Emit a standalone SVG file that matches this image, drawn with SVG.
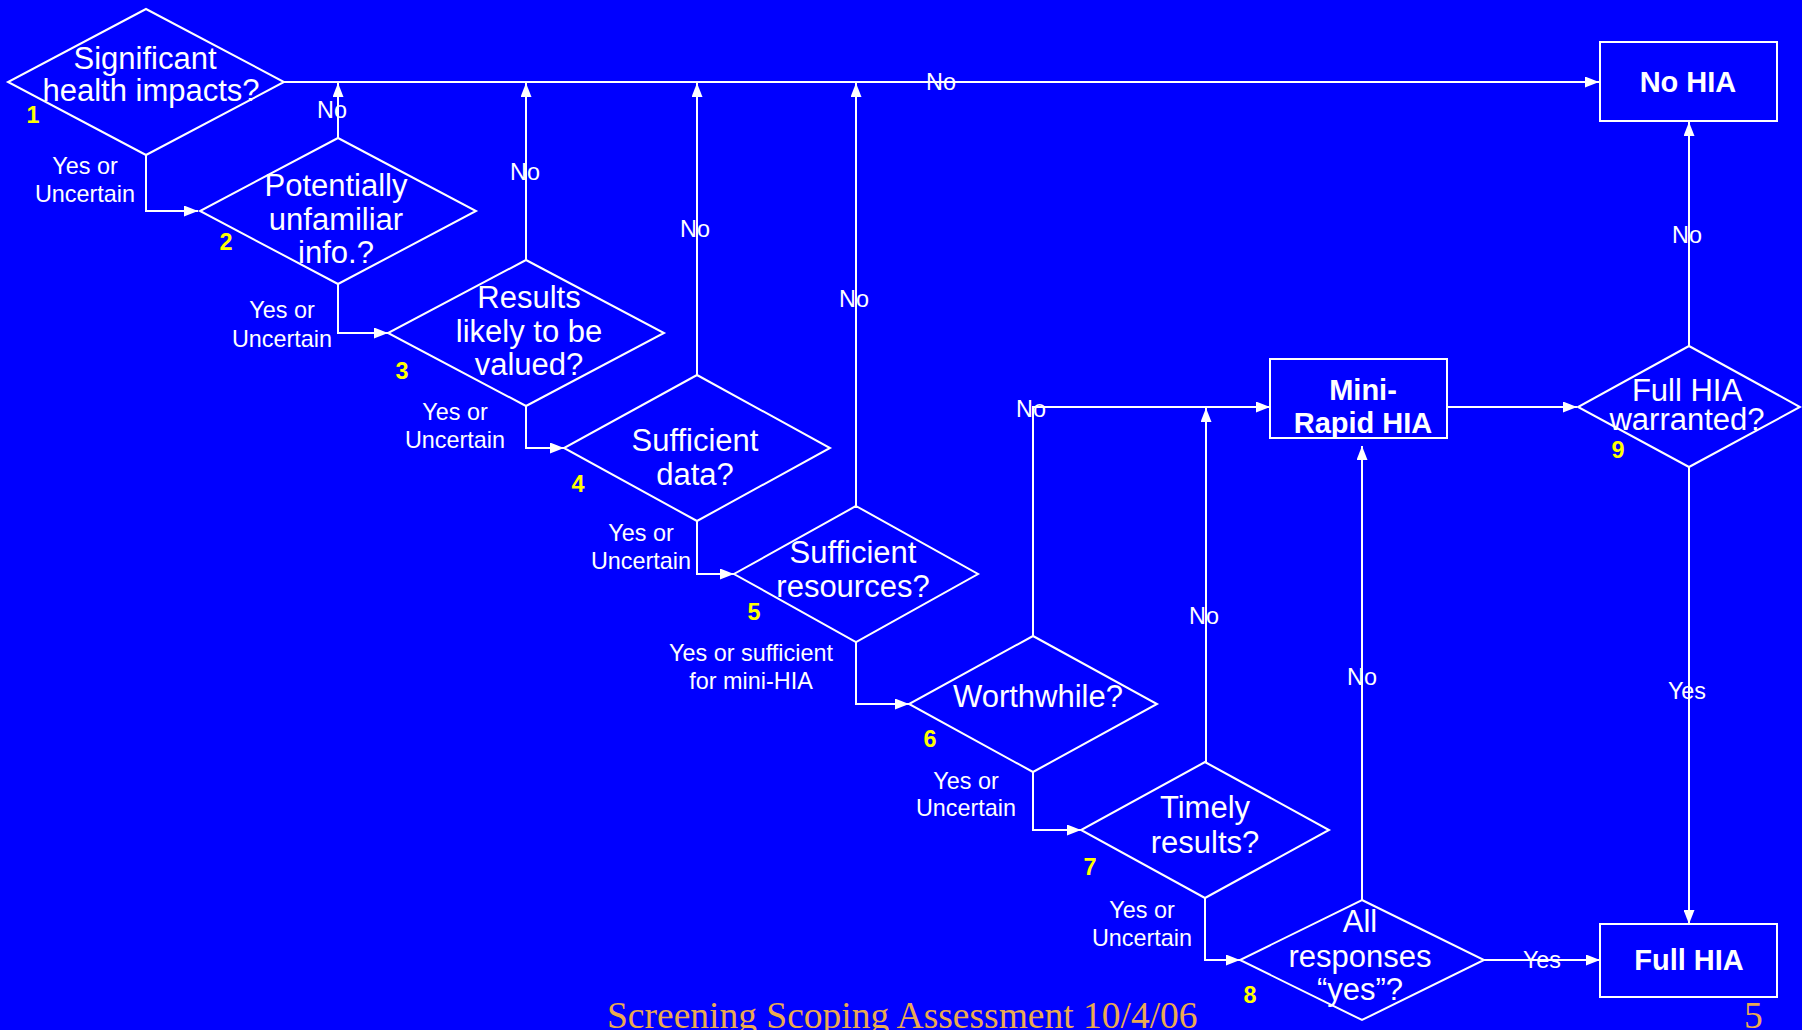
<svg xmlns="http://www.w3.org/2000/svg" width="1802" height="1030" viewBox="0 0 1802 1030">
<style>
.shape{fill:none;stroke:#fff;stroke-width:2}
.ln{fill:none;stroke:#fff;stroke-width:2}
.q{font-family:"Liberation Sans",Arial,sans-serif;font-size:31px;fill:#fff;text-anchor:middle}
.b{font-family:"Liberation Sans",Arial,sans-serif;font-size:29px;font-weight:bold;fill:#fff;text-anchor:middle}
.lbl{font-family:"Liberation Sans",Arial,sans-serif;font-size:23.4px;fill:#fff;text-anchor:middle}
.num{font-family:"Liberation Sans",Arial,sans-serif;font-size:23.4px;font-weight:bold;fill:#ffff00;text-anchor:middle}
.ft{font-family:"Liberation Serif","Times New Roman",serif;font-size:37.5px;fill:#EBAA4F}
</style>
<defs>
<marker id="ah" markerUnits="userSpaceOnUse" markerWidth="14" markerHeight="11" refX="14" refY="5.5" orient="auto">
<path d="M0,0 L14,5.5 L0,11 z" fill="#fff"/>
</marker>
</defs>
<rect x="0" y="0" width="1802" height="1030" fill="#0000FF"/>

<g id="connectors">
<path class="ln" d="M284,82 H1599" marker-end="url(#ah)"/>
<path class="ln" d="M338,138 V83" marker-end="url(#ah)"/>
<path class="ln" d="M526,260 V83" marker-end="url(#ah)"/>
<path class="ln" d="M697,375 V83" marker-end="url(#ah)"/>
<path class="ln" d="M856,506 V83" marker-end="url(#ah)"/>
<path class="ln" d="M146,155 V211 H198" marker-end="url(#ah)"/>
<path class="ln" d="M338,284 V333 H388" marker-end="url(#ah)"/>
<path class="ln" d="M526,406 V448 H564" marker-end="url(#ah)"/>
<path class="ln" d="M697,521 V574 H734" marker-end="url(#ah)"/>
<path class="ln" d="M856,642 V704 H909" marker-end="url(#ah)"/>
<path class="ln" d="M1033,772 V830 H1081" marker-end="url(#ah)"/>
<path class="ln" d="M1205,898 V960 H1240" marker-end="url(#ah)"/>
<path class="ln" d="M1033,636 V407 H1270" marker-end="url(#ah)"/>
<path class="ln" d="M1206,762 V408" marker-end="url(#ah)"/>
<path class="ln" d="M1362,900 V446" marker-end="url(#ah)"/>
<path class="ln" d="M1447,407 H1577" marker-end="url(#ah)"/>
<path class="ln" d="M1689,346 V122" marker-end="url(#ah)"/>
<path class="ln" d="M1689,467 V924" marker-end="url(#ah)"/>
<path class="ln" d="M1484,960 H1600" marker-end="url(#ah)"/>
<text class="lbl" x="332" y="118">No</text>
<text class="lbl" x="525" y="180">No</text>
<text class="lbl" x="695" y="237">No</text>
<text class="lbl" x="854" y="307">No</text>
<text class="lbl" x="941" y="90">No</text>
<text class="lbl" x="1031" y="417">No</text>
<text class="lbl" x="1204" y="624">No</text>
<text class="lbl" x="1362" y="685">No</text>
<text class="lbl" x="1687" y="243">No</text>
<text class="lbl" x="1687" y="699">Yes</text>
<text class="lbl" x="1542" y="968">Yes</text>
<text class="lbl" x="85" y="174">Yes or</text>
<text class="lbl" x="85" y="202">Uncertain</text>
<text class="lbl" x="282" y="318">Yes or</text>
<text class="lbl" x="282" y="347">Uncertain</text>
<text class="lbl" x="455" y="420">Yes or</text>
<text class="lbl" x="455" y="448">Uncertain</text>
<text class="lbl" x="641" y="541">Yes or</text>
<text class="lbl" x="641" y="569">Uncertain</text>
<text class="lbl" x="751" y="661">Yes or sufficient</text>
<text class="lbl" x="751" y="689">for mini-HIA</text>
<text class="lbl" x="966" y="789">Yes or</text>
<text class="lbl" x="966" y="816">Uncertain</text>
<text class="lbl" x="1142" y="918">Yes or</text>
<text class="lbl" x="1142" y="946">Uncertain</text>
</g>

<g id="d1">
<polygon class="shape" points="146,9 284,82 146,155 8,82"/>
<text class="q" x="145" y="69">Significant</text>
<text class="q" x="151" y="101">health impacts?</text>
<text class="num" x="33" y="123">1</text>
</g>
<g id="d2">
<polygon class="shape" points="338,138 476,211 338,284 200,211"/>
<text class="q" x="336" y="196">Potentially</text>
<text class="q" x="336" y="230">unfamiliar</text>
<text class="q" x="336" y="263">info.?</text>
<text class="num" x="226" y="250">2</text>
</g>
<g id="d3">
<polygon class="shape" points="526,260 664,333 526,406 388,333"/>
<text class="q" x="529" y="308">Results</text>
<text class="q" x="529" y="342">likely to be</text>
<text class="q" x="529" y="375">valued?</text>
<text class="num" x="402" y="379">3</text>
</g>
<g id="d4">
<polygon class="shape" points="697,375 830,448 697,521 564,448"/>
<text class="q" x="695" y="451">Sufficient</text>
<text class="q" x="695" y="485">data?</text>
<text class="num" x="578" y="492">4</text>
</g>
<g id="d5">
<polygon class="shape" points="856,506 978,574 856,642 734,574"/>
<text class="q" x="853" y="563">Sufficient</text>
<text class="q" x="853" y="597">resources?</text>
<text class="num" x="754" y="620">5</text>
</g>
<g id="d6">
<polygon class="shape" points="1033,636 1157,704 1033,772 909,704"/>
<text class="q" x="1038" y="707">Worthwhile?</text>
<text class="num" x="930" y="747">6</text>
</g>
<g id="d7">
<polygon class="shape" points="1205,762 1329,830 1205,898 1081,830"/>
<text class="q" x="1205" y="818">Timely</text>
<text class="q" x="1205" y="853">results?</text>
<text class="num" x="1090" y="875">7</text>
</g>
<g id="d8">
<polygon class="shape" points="1362,900 1484,960 1362,1020 1240,960"/>
<text class="q" x="1360" y="932">All</text>
<text class="q" x="1360" y="967">responses</text>
<text class="q" x="1360" y="1000">“yes”?</text>
<text class="num" x="1250" y="1003">8</text>
</g>
<g id="d9">
<polygon class="shape" points="1689,346 1800,407 1689,467 1578,407"/>
<text class="q" x="1687" y="401">Full HIA</text>
<text class="q" x="1687" y="430">warranted?</text>
<text class="num" x="1618" y="458">9</text>
</g>
<g id="nohia">
<rect class="shape" x="1600" y="42" width="177" height="79"/>
<text class="b" x="1688" y="92">No HIA</text>
</g>
<g id="mini">
<rect class="shape" x="1270" y="359" width="177" height="79"/>
<text class="b" x="1363" y="400">Mini-</text>
<text class="b" x="1363" y="433">Rapid HIA</text>
</g>
<g id="fullhia">
<rect class="shape" x="1600" y="924" width="177" height="73"/>
<text class="b" x="1689" y="970">Full HIA</text>
</g>
<g id="footer">
<text class="ft" x="607" y="1028">Screening Scoping Assessment 10/4/06</text>
<text class="ft" x="1744" y="1028">5</text>
</g>
</svg>
